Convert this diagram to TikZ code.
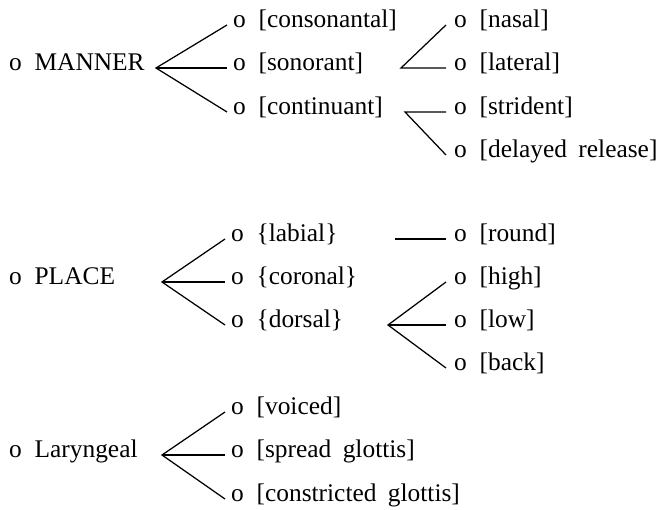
\documentclass[tikz,border=0pt]{standalone}
\usepackage{fontspec}
\setmainfont{Liberation Serif}
\newcommand{\featgap}{\hspace{0.5em}}
\newcommand{\wgap}{\hspace{0.45em}}
\begin{document}
\begin{tikzpicture}[x=1bp,y=-1bp,
  lab/.style={anchor=west, inner xsep=6bp, inner ysep=0pt, text height=0.72em, text depth=0.25em, font=\fontsize{25.5}{30}\selectfont},
  lab2/.style={lab, inner xsep=8bp},
  rootlab/.style={lab, inner xsep=0pt},
  br/.style={line width=1.25bp, black}]
\useasboundingbox[fill=white] (0,0) rectangle (668,510);
% ---------- MANNER ----------
\node[rootlab] (manner) at (9,68) {o\featgap MANNER};
\coordinate (ma) at (156,68);
\node[lab] (cons) at (227,25) {o\featgap[consonantal]};
\node[lab] (son) at (227,68) {o\featgap[sonorant]};
\node[lab] (cont) at (227,112) {o\featgap[continuant]};
\draw[br] (cons.west) -- (ma) -- (cont.west);
\draw[br] (ma) -- (son.west);
\coordinate (sa) at (401,68);
\node[lab2] (nasal) at (446,25) {o\featgap[nasal]};
\node[lab2] (lateral) at (446,68) {o\featgap[lateral]};
\draw[br] (nasal.west) -- (sa) -- (lateral.west);
\coordinate (ca) at (405,112);
\node[lab2] (strident) at (446,112) {o\featgap[strident]};
\node[lab2] (delayed) at (446,155) {o\featgap[delayed\wgap release]};
\draw[br] (strident.west) -- (ca) -- (delayed.west);
% ---------- PLACE ----------
\node[rootlab] (place) at (9,282) {o\featgap PLACE};
\coordinate (pa) at (162,282);
\node[lab] (labial) at (225,239) {o\featgap\{labial\}};
\node[lab] (coronal) at (225,282) {o\featgap\{coronal\}};
\node[lab] (dorsal) at (225,325) {o\featgap\{dorsal\}};
\draw[br] (labial.west) -- (pa) -- (dorsal.west);
\draw[br] (pa) -- (coronal.west);
\coordinate (ra) at (395,239);
\node[lab2] (round) at (446,239) {o\featgap[round]};
\draw[br] (ra) -- (round.west);
\coordinate (da) at (388,325);
\node[lab2] (high) at (446,282) {o\featgap[high]};
\node[lab2] (low) at (446,325) {o\featgap[low]};
\node[lab2] (back) at (446,368) {o\featgap[back]};
\draw[br] (high.west) -- (da) -- (back.west);
\draw[br] (da) -- (low.west);
% ---------- Laryngeal ----------
\node[rootlab] (lar) at (9,455) {o\featgap Laryngeal};
\coordinate (la) at (162,455);
\node[lab] (voiced) at (225,412) {o\featgap[voiced]};
\node[lab] (spread) at (225,455) {o\featgap[spread\wgap glottis]};
\node[lab] (constr) at (225,499) {o\featgap[constricted\wgap glottis]};
\draw[br] (voiced.west) -- (la) -- (constr.west);
\draw[br] (la) -- (spread.west);
\end{tikzpicture}
\end{document}
